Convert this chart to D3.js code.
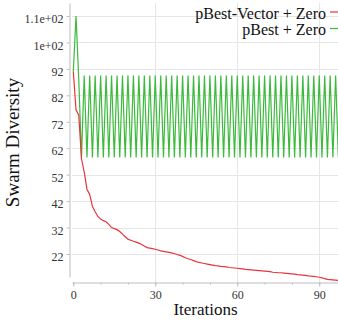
<!DOCTYPE html>
<html>
<head>
<meta charset="utf-8">
<script src="https://cdn.jsdelivr.net/npm/d3@7"></script>
<style>
  html, body { margin: 0; padding: 0; background: #fff; }
  svg { display: block; }
  text { font-family: "Liberation Serif", "DejaVu Serif", serif; }
</style>
</head>
<body>
<svg id="chart" width="338" height="321"></svg>
<script>
const seriesNames = ["pBest-Vector + Zero", "pBest + Zero"];
const seriesColors = ["#e8343a", "#3cba3c"];

const redValues = [
  91.0, 76.5, 74.5, 58.0, 53.0, 46.5, 44.5, 40.0, 38.0, 36.2,
  35.2, 34.6, 34.2, 33.2, 32.0, 31.6, 31.2, 30.5, 29.5, 28.5,
  27.6, 27.2, 26.8, 26.5, 26.1, 25.6, 25.0, 24.4, 24.2, 24.0,
  23.8, 23.5, 23.2, 23.0, 22.8, 22.6, 22.4, 22.1, 21.8, 21.5,
  21.1, 20.6, 20.2, 19.9, 19.5, 19.1, 18.8, 18.6, 18.4, 18.2,
  18.0, 17.8, 17.6, 17.5, 17.3, 17.2, 17.1, 16.9, 16.8, 16.7,
  16.6, 16.5, 16.4, 16.2, 16.1, 16.0, 15.9, 15.8, 15.7, 15.6,
  15.5, 15.4, 15.3, 15.1, 15.0, 14.9, 14.9, 14.8, 14.7, 14.6,
  14.5, 14.4, 14.2, 14.1, 14.0, 13.9, 13.7, 13.6, 13.5, 13.4,
  13.2, 13.0, 12.7, 12.4, 12.3, 12.2, 12.1, 12.0, 11.9, 11.8
];

const greenValues = [
  91.0, 112.0, 88.0, 58.5, 89.5, 58.5, 89.5, 58.5, 89.5, 58.5,
  89.5, 58.5, 89.5, 58.5, 89.5, 58.5, 89.5, 58.5, 89.5, 58.5,
  89.5, 58.5, 89.5, 58.5, 89.5, 58.5, 89.5, 58.5, 89.5, 58.5,
  89.5, 58.5, 89.5, 58.5, 89.5, 58.5, 89.5, 58.5, 89.5, 58.5,
  89.5, 58.5, 89.5, 58.5, 89.5, 58.5, 89.5, 58.5, 89.5, 58.5,
  89.5, 58.5, 89.5, 58.5, 89.5, 58.5, 89.5, 58.5, 89.5, 58.5,
  89.5, 58.5, 89.5, 58.5, 89.5, 58.5, 89.5, 58.5, 89.5, 58.5,
  89.5, 58.5, 89.5, 58.5, 89.5, 58.5, 89.5, 58.5, 89.5, 58.5,
  89.5, 58.5, 89.5, 58.5, 89.5, 58.5, 89.5, 58.5, 89.5, 58.5,
  89.5, 58.5, 89.5, 58.5, 89.5, 58.5, 89.5, 58.5, 89.5, 58.5
];

const iterations = redValues.map((_, i) => i);

const yTickValues = [22, 32, 42, 52, 62, 72, 82, 92, 102, 112];
const yTickLabels = ["22", "32", "42", "52", "62", "72", "82", "92", "1e+02", "1.1e+02"];
const xTickValues = [0, 30, 60, 90];
const xMinorTickValues = [0, 10, 20, 30, 40, 50, 60, 70, 80, 90];
const xTitle = "Iterations";
const yTitle = "Swarm Diversity";

const svg = d3.select("#chart");

const x = d3.scaleLinear().domain([-0.4, 97.6]).range([72.2, 340]);
const y = d3.scaleLinear().domain([13.3, 116.9]).range([277, 3]);

const gridColor = "#e6e6e6";
const axisColor = "#bdbdbd";
const labelColor = "#333";

// gridlines
const grid = svg.append("g");
grid.selectAll("line.h").data(yTickValues).join("line")
  .attr("x1", 72).attr("x2", 338)
  .attr("y1", d => Math.round(y(d)) + 0.5).attr("y2", d => Math.round(y(d)) + 0.5)
  .attr("stroke", gridColor).attr("stroke-width", 1);
grid.selectAll("line.v").data(xTickValues.filter(d => d > 0)).join("line")
  .attr("x1", d => Math.round(x(d)) + 0.5).attr("x2", d => Math.round(x(d)) + 0.5)
  .attr("y1", 3).attr("y2", 282)
  .attr("stroke", gridColor).attr("stroke-width", 1);

// y axis
const yAxis = d3.axisLeft(y).tickValues(yTickValues)
  .tickFormat((d, i) => yTickLabels[i]).tickSize(3).tickSizeOuter(0).tickPadding(3);
const gy = svg.append("g").attr("transform", "translate(69.5,0)").call(yAxis);
gy.select(".domain").attr("stroke", axisColor);
gy.selectAll(".tick line").attr("stroke", axisColor);
gy.selectAll(".tick text")
  .attr("font-family", "'Liberation Serif', serif").attr("font-size", 12)
  .attr("fill", labelColor).attr("dy", "0.55em");

// x axis
const xAxisMinor = d3.axisBottom(x).tickValues(xMinorTickValues).tickFormat("").tickSize(2).tickSizeOuter(0);
const gxm = svg.append("g").attr("transform", "translate(0,282.5)").call(xAxisMinor);
gxm.select(".domain").attr("stroke", axisColor);
gxm.selectAll(".tick line").attr("stroke", axisColor);
const xAxis = d3.axisBottom(x).tickValues(xTickValues).tickSize(4).tickSizeOuter(0).tickPadding(4);
const gx = svg.append("g").attr("transform", "translate(0,282.5)").call(xAxis);
gx.select(".domain").remove();
gx.selectAll(".tick line").attr("stroke", axisColor);
gx.selectAll(".tick text")
  .attr("font-family", "'Liberation Serif', serif").attr("font-size", 12)
  .attr("fill", labelColor);

// titles
svg.append("text").attr("x", 205.5).attr("y", 315)
  .attr("text-anchor", "middle").attr("font-size", 17).attr("fill", "#111")
  .text(xTitle);
svg.append("text").attr("transform", "translate(19,142.5) rotate(-90)")
  .attr("text-anchor", "middle").attr("font-size", 19).attr("fill", "#111")
  .text(yTitle);

// lines
const line = d3.line().x((d, i) => x(iterations[i])).y(d => y(d));
svg.append("path").datum(greenValues)
  .attr("fill", "none").attr("stroke", seriesColors[1]).attr("stroke-width", 1.2)
  .attr("d", line);
svg.append("path").datum(redValues)
  .attr("fill", "none").attr("stroke", seriesColors[0]).attr("stroke-width", 1.2)
  .attr("d", line);

// legend
const legend = svg.append("g");
const legendRows = [0, 1];
legend.selectAll("text").data(legendRows).join("text")
  .attr("x", 326).attr("y", d => 18.5 + d * 16.5)
  .attr("text-anchor", "end").attr("font-size", 16).attr("fill", "#111")
  .text(d => seriesNames[d]);
legend.selectAll("line").data(legendRows).join("line")
  .attr("x1", 330).attr("x2", 338)
  .attr("y1", d => 12 + d * 16.5).attr("y2", d => 12 + d * 16.5)
  .attr("stroke", d => seriesColors[d]).attr("stroke-width", 1.2);
</script>
</body>
</html>
